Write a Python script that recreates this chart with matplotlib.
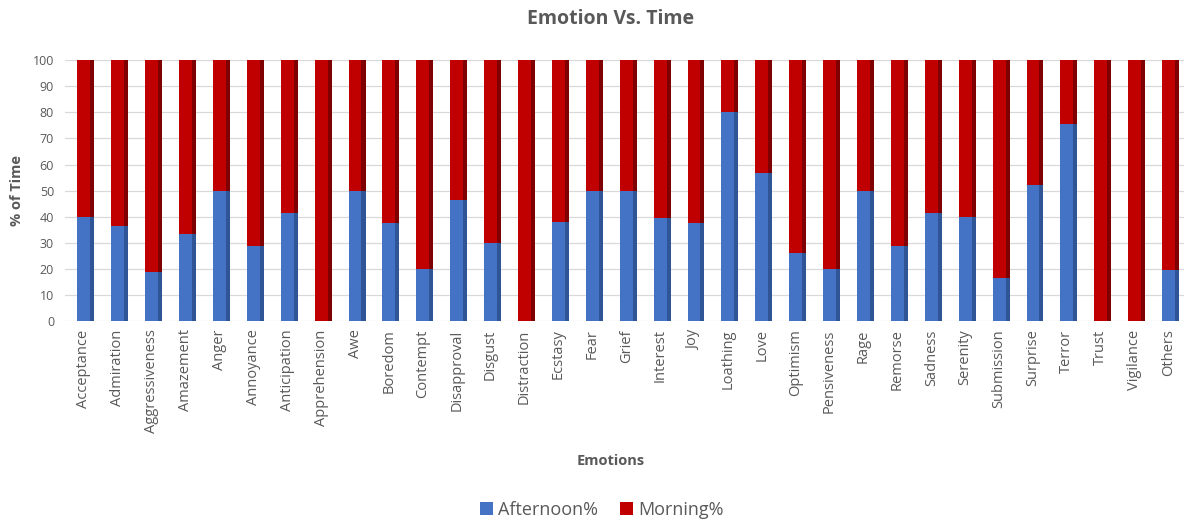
import matplotlib.pyplot as plt
import numpy as np

emotions = ['Acceptance', 'Admiration', 'Aggressiveness', 'Amazement', 'Anger', 'Annoyance',
            'Anticipation', 'Apprehension', 'Awe', 'Boredom', 'Contempt', 'Disapproval',
            'Disgust', 'Distraction', 'Ecstasy', 'Fear', 'Grief', 'Interest', 'Joy',
            'Loathing', 'Love', 'Optimism', 'Pensiveness', 'Rage', 'Remorse', 'Sadness',
            'Serenity', 'Submission', 'Surprise', 'Terror', 'Trust', 'Vigilance', 'Others']
afternoon = [40, 36.4, 18.8, 33.3, 50, 28.6, 41.4, 0, 50, 37.5, 20, 46.5,
             30, 0, 38, 50, 50, 39.4, 37.5, 80, 56.8, 26, 20, 50, 28.6, 41.4,
             40, 16.7, 52, 75.4, 0, 0, 19.6]
morning = [100 - a for a in afternoon]

grey = '#595959'
blue, blue_side = '#4472C4', '#2F5597'
red, red_side = '#C00000', '#7F0000'

plt.rcParams['font.family'] = ['Open Sans', 'DejaVu Sans']

fig = plt.figure(figsize=(11.85, 5.23), dpi=100)
ax = fig.add_axes([0.055, 0.386, 0.944, 0.499])

x = np.arange(len(emotions))
w = 0.38
d = 0.12
# side faces for a bit of depth
ax.bar(x + w / 2 + d / 2, afternoon, width=d, color=blue_side, zorder=2)
ax.bar(x + w / 2 + d / 2, morning, bottom=afternoon, width=d, color=red_side, zorder=2)
ax.bar(x, afternoon, width=w, color=blue, label='Afternoon%', zorder=3)
ax.bar(x, morning, bottom=afternoon, width=w, color=red, label='Morning%', zorder=3)

ax.set_xlim(-0.55, len(emotions) - 0.55)
ax.set_ylim(0, 100)
ax.set_yticks(range(0, 101, 10))
ax.set_xticks(x)
ax.set_xticklabels(emotions, rotation=90, fontsize=10.5, color=grey)
ax.tick_params(axis='y', labelsize=9, colors=grey, length=0, pad=8)
ax.tick_params(axis='x', length=0, pad=6)
ax.grid(axis='y', color='#D9D9D9', linewidth=0.9, zorder=0)
ax.set_axisbelow(True)
for s in ax.spines.values():
    s.set_visible(False)

ax.set_ylabel('% of Time', fontsize=10.5, fontweight='bold', color=grey, labelpad=6)
fig.text(0.515, 0.11, 'Emotions', ha='center', fontsize=10.5, fontweight='bold', color=grey)
fig.text(0.515, 0.955, 'Emotion Vs. Time', ha='center', fontsize=14, fontweight='bold', color=grey)

fig.legend(loc='center', bbox_to_anchor=(0.508, 0.025), ncol=2, frameon=False,
           fontsize=13, handlelength=0.7, handleheight=0.7, handletextpad=0.3,
           columnspacing=1.2, labelcolor=grey)

fig.savefig('out.png', dpi=100)
